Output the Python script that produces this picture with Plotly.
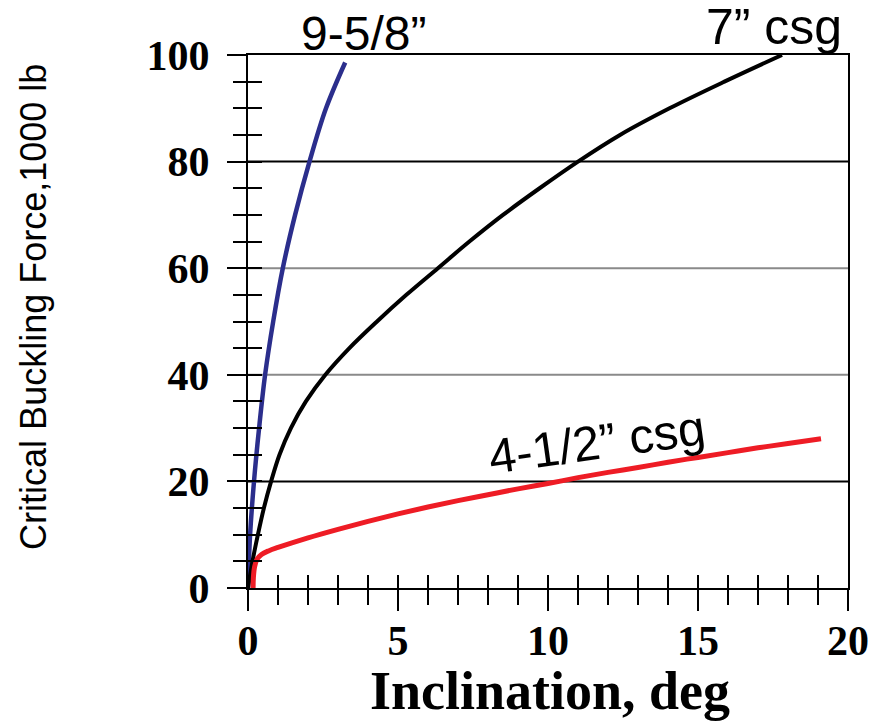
import plotly.graph_objects as go

# ---- data ----
INCL_958 = [0, 0.07, 0.2, 0.37, 0.57, 0.84, 1.16, 1.57, 2.05, 2.6, 3.24]
FORCE_958 = [0, 10, 20, 30, 40, 50, 60, 70, 80, 90, 98.6]

INCL_7 = [0, 0.15, 0.33, 0.53, 0.77, 1.05, 1.43, 1.93, 2.58, 3.38, 4.3, 5.28,
          6.33, 7.38, 8.5, 9.72, 11.0, 12.4, 14.05, 15.88, 17.8]
FORCE_7 = [0, 5, 10, 15, 20, 25, 30, 35, 40, 45, 50, 55,
           60, 65, 70, 75, 80, 85, 90, 95, 100]

INCL_412 = [0.17, 0.18, 0.22, 0.3, 0.45, 0.7, 1, 2, 3, 4, 5, 6, 7, 8, 9, 10,
            11, 12, 13, 14, 15, 16, 17, 18, 19.1]
FORCE_412 = [0, 2.0, 4.0, 5.4, 6.3, 7.0, 7.6, 9.4, 11.0, 12.5, 13.9, 15.2, 16.4,
             17.5, 18.6, 19.6, 20.7, 21.7, 22.6, 23.6, 24.5, 25.4, 26.3, 27.1, 28.0]

X_TICKS = [0, 5, 10, 15, 20]
Y_TICKS = [0, 20, 40, 60, 80, 100]
GRID_LEVELS = [20, 40, 60, 80]
GRID_COLORS = ["#000000", "#8a8a8a", "#8a8a8a", "#000000"]

LABEL_958 = "9-5/8\u201d"
LABEL_7 = "7\u201d csg"
LABEL_412 = "4-1/2\u201d csg"
X_TITLE = "Inclination, deg"
Y_TITLE = "Critical Buckling Force,1000 lb"

SERIF = "Liberation Serif"
SANS = "Liberation Sans"

fig = go.Figure()
fig.add_trace(go.Scatter(x=INCL_958, y=FORCE_958, mode="lines",
                         line=dict(color="#2B2E8C", width=4.5, shape="spline", smoothing=1.0),
                         showlegend=False, name=LABEL_958))
fig.add_trace(go.Scatter(x=INCL_7, y=FORCE_7, mode="lines",
                         line=dict(color="#000000", width=4, shape="spline", smoothing=1.0),
                         showlegend=False, name=LABEL_7))
fig.add_trace(go.Scatter(x=INCL_412, y=FORCE_412, mode="lines",
                         line=dict(color="#EE1C25", width=5, shape="spline", smoothing=1.0),
                         showlegend=False, name=LABEL_412))
# empty trace to create overlay axes (inner halves of the crossing ticks)
fig.add_trace(go.Scatter(x=[], y=[], xaxis="x2", yaxis="y2", showlegend=False, hoverinfo="skip"))

for lvl, col in zip(GRID_LEVELS, GRID_COLORS):
    fig.add_shape(type="line", xref="paper", x0=0, x1=1, yref="y", y0=lvl, y1=lvl,
                  line=dict(color=col, width=2), layer="below")

tick_font = dict(family=SERIF, size=42, color="black", weight="bold")

fig.update_layout(
    width=881, height=724,
    margin=dict(l=248, r=28, t=55, b=136),
    paper_bgcolor="white", plot_bgcolor="white",
    xaxis=dict(range=[0, 20], tickvals=X_TICKS, ticktext=[str(v) for v in X_TICKS],
               ticks="outside", ticklen=21, tickwidth=2, tickcolor="black",
               minor=dict(dtick=1, ticks="outside", ticklen=15, tickwidth=1.5, tickcolor="black"),
               showline=True, linewidth=2, linecolor="black", mirror=True,
               showgrid=False, zeroline=False, tickfont=tick_font, ticklabelstandoff=-6),
    yaxis=dict(range=[0, 100], tickvals=Y_TICKS, ticktext=[str(v) for v in Y_TICKS],
               ticks="outside", ticklen=19, tickwidth=2, tickcolor="black",
               minor=dict(dtick=5, ticks="outside", ticklen=13, tickwidth=1.5, tickcolor="black"),
               showline=True, linewidth=2, linecolor="black", mirror=True,
               showgrid=False, zeroline=False, tickfont=tick_font, ticklabelstandoff=9),
    xaxis2=dict(range=[0, 20], overlaying="x", anchor="y2", side="bottom",
                ticks="inside", dtick=1, tick0=0, ticklen=13, tickwidth=1.5, tickcolor="black",
                showticklabels=False, showline=False, showgrid=False, zeroline=False),
    yaxis2=dict(range=[0, 100], overlaying="y", anchor="x2", side="left",
                ticks="inside", dtick=5, tick0=0, ticklen=14, tickwidth=1.5, tickcolor="black",
                showticklabels=False, showline=False, showgrid=False, zeroline=False),
    annotations=[
        dict(text=X_TITLE, xref="paper", yref="paper", x=0.504, y=-0.194,
             xanchor="center", yanchor="middle", showarrow=False,
             font=dict(family=SERIF, size=54, color="black", weight="bold")),
        dict(text=Y_TITLE, xref="paper", yref="paper", x=-0.3587, y=0.527,
             xanchor="center", yanchor="middle", showarrow=False, textangle=-90,
             font=dict(family=SANS, size=36, color="black")),
        dict(text=LABEL_958, xref="paper", yref="paper", x=0.193, y=1.040,
             xanchor="center", yanchor="middle", showarrow=False,
             font=dict(family=SANS, size=48, color="black")),
        dict(text=LABEL_7, xref="paper", yref="paper", x=0.876, y=1.052,
             xanchor="center", yanchor="middle", showarrow=False,
             font=dict(family=SANS, size=50, color="black")),
        dict(text=LABEL_412, xref="paper", yref="paper", x=0.582, y=0.273,
             xanchor="center", yanchor="middle", showarrow=False, textangle=-8,
             font=dict(family=SANS, size=49, color="black")),
    ],
)

fig.write_html("out.html")
